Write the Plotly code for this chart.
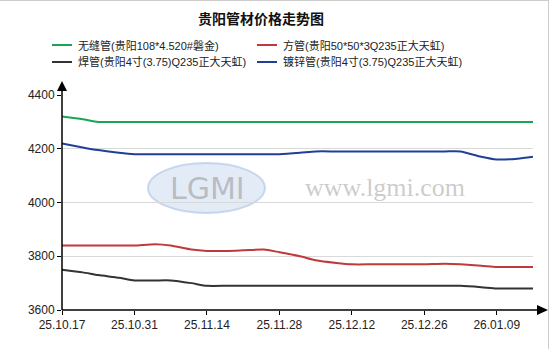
import plotly.graph_objects as go
import pandas as pd

# ---- data ----
start = pd.Timestamp("2025-10-17")
offsets = [0]
for i in range(26):
    offsets.append(offsets[-1] + (4 if i % 2 == 0 else 3))
dates = [start + pd.Timedelta(days=d) for d in offsets]

seamless = [4320, 4310, 4300, 4300, 4300, 4300, 4300, 4300, 4300, 4300, 4300, 4300, 4300, 4300,
            4300, 4300, 4300, 4300, 4300, 4300, 4300, 4300, 4300, 4300, 4300, 4300, 4300]
square = [3840, 3840, 3840, 3840, 3840, 3845, 3840, 3825, 3820, 3820, 3822, 3825, 3815, 3800,
          3785, 3775, 3770, 3770, 3770, 3770, 3770, 3772, 3770, 3765, 3760, 3760, 3760]
welded = [3750, 3740, 3730, 3720, 3710, 3710, 3710, 3700, 3690, 3690, 3690, 3690, 3690, 3690,
          3690, 3690, 3690, 3690, 3690, 3690, 3690, 3690, 3690, 3685, 3680, 3680, 3680]
galv = [4220, 4205, 4195, 4185, 4180, 4180, 4180, 4180, 4180, 4180, 4180, 4180, 4180, 4185,
        4190, 4190, 4190, 4190, 4190, 4190, 4190, 4190, 4190, 4170, 4160, 4163, 4170]

names = ["无缝管(贵阳108*4.520#磐金)", "方管(贵阳50*50*3Q235正大天虹)",
         "焊管(贵阳4寸(3.75)Q235正大天虹)", "镀锌管(贵阳4寸(3.75)Q235正大天虹)"]
colors = ["#17a653", "#c0393b", "#333333", "#1f3f99"]
series = [seamless, square, welded, galv]

tick_labels = ["25.10.17", "25.10.31", "25.11.14", "25.11.28", "25.12.12", "25.12.26", "26.01.09"]
tick_dates = [start + pd.Timedelta(days=14 * i) for i in range(len(tick_labels))]
y_ticks = [3600, 3800, 4000, 4200, 4400]

FONT = "Liberation Sans, Arial, Noto Sans CJK SC, sans-serif"
CJK = "Noto Sans CJK SC, sans-serif"

fig = go.Figure()
for name, col, ys in zip(names, colors, series):
    fig.add_trace(go.Scatter(x=dates, y=ys, mode="lines", name=name, showlegend=False,
                             line=dict(color=col, width=2, shape="spline", smoothing=0.6)))

W, H = 549, 349
L, R, T, B = 62, 16, 95, 39
pw, ph = W - L - R, H - T - B

def px(x):
    return (x - L) / pw

def py(y):
    return (H - B - y) / ph

shapes = []
# watermark ellipse
shapes.append(dict(type="circle", xref="paper", yref="paper", layer="below",
                   x0=px(148), x1=px(265), y0=py(213), y1=py(163),
                   fillcolor="rgba(190,210,235,0.45)", line=dict(color="rgba(170,195,230,0.6)", width=2)))
# axes lines
shapes.append(dict(type="line", xref="paper", yref="paper", x0=0, x1=px(540), y0=0, y1=0,
                   line=dict(color="black", width=1.5)))
shapes.append(dict(type="line", xref="paper", yref="paper", x0=0, x1=0, y0=0, y1=py(88),
                   line=dict(color="black", width=1.5)))
# arrows
shapes.append(dict(type="path", xref="paper", yref="paper",
                   path=f"M {px(537)} {py(305)} L {px(548)} {py(310)} L {px(537)} {py(315)} Z",
                   fillcolor="black", line=dict(color="black", width=0)))
shapes.append(dict(type="path", xref="paper", yref="paper",
                   path=f"M {px(57)} {py(91)} L {px(62)} {py(81)} L {px(67)} {py(91)} Z",
                   fillcolor="black", line=dict(color="black", width=0)))
# border top / right
shapes.append(dict(type="line", xref="paper", yref="paper", x0=px(0), x1=px(548.5), y0=py(0.5), y1=py(0.5),
                   line=dict(color="#cccccc", width=1)))
shapes.append(dict(type="line", xref="paper", yref="paper", x0=px(548.5), x1=px(548.5), y0=py(0), y1=py(349),
                   line=dict(color="#cccccc", width=1)))

annotations = [
    dict(text="LGMI", xref="paper", yref="paper", x=px(207), y=py(188), showarrow=False,
         xanchor="center", yanchor="middle",
         font=dict(family="DejaVu Sans, sans-serif", size=30, color="rgba(150,150,150,0.55)")),
    dict(text="www.lgmi.com", xref="paper", yref="paper", x=px(385), y=py(187), showarrow=False,
         xanchor="center", yanchor="middle",
         font=dict(family="Liberation Serif, DejaVu Serif, serif", size=26, color="rgba(170,170,170,0.6)")),
    dict(text="<b>贵阳管材价格走势图</b>", xref="paper", yref="paper", x=px(261), y=py(18),
         xanchor="center", yanchor="middle",
         showarrow=False, font=dict(family=CJK, size=14, color="#111111")),
]

# custom legend (2 columns x 2 rows)
leg_pos = [(52, 45), (257, 45), (52, 62), (257, 62)]
for (lx, ly), name, col in zip(leg_pos, names, colors):
    shapes.append(dict(type="line", xref="paper", yref="paper",
                       x0=px(lx), x1=px(lx + 20), y0=py(ly), y1=py(ly),
                       line=dict(color=col, width=2)))
    annotations.append(dict(text=name, xref="paper", yref="paper", x=px(lx + 24), y=py(ly),
                            xanchor="left", yanchor="middle", showarrow=False,
                            font=dict(family=FONT, size=11, color="#222222")))

fig.update_layout(
    width=W, height=H,
    margin=dict(l=L, r=R, t=T, b=B, pad=0),
    paper_bgcolor="white", plot_bgcolor="white",
    font=dict(family=FONT, size=12, color="#222222"),
    showlegend=False,
    xaxis=dict(range=[dates[0], dates[-1]], tickvals=tick_dates, ticktext=tick_labels,
               showgrid=False, zeroline=False, showline=False, ticks="outside",
               ticklen=4, tickcolor="black", tickfont=dict(family=FONT, size=12, color="#222")),
    yaxis=dict(range=[3600, 4400], tickvals=y_ticks, showgrid=True, gridcolor="#d9d9d9",
               gridwidth=1, zeroline=False, showline=False, ticks="outside", ticklen=4,
               tickcolor="black", tickfont=dict(family=FONT, size=12, color="#222")),
    shapes=shapes, annotations=annotations,
)

fig.write_html("out.html")
